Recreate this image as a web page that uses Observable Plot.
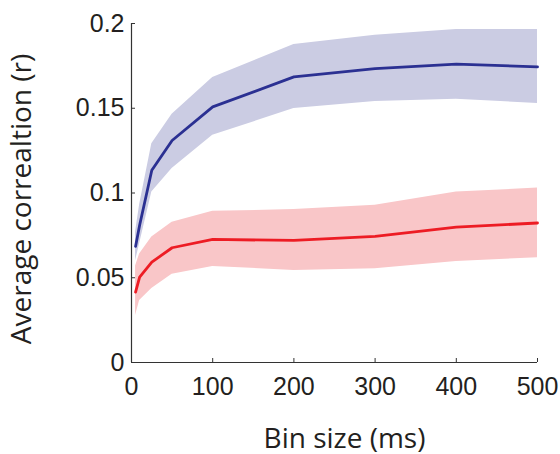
<!DOCTYPE html>
<html>
<head>
<meta charset="utf-8">
<script src="https://cdn.jsdelivr.net/npm/d3@7"></script>
<script src="https://cdn.jsdelivr.net/npm/@observablehq/plot@0.6"></script>
<style>
  html, body { margin: 0; padding: 0; background: #fff; }
</style>
</head>
<body>
<div id="chart"></div>
<script>
// Bin sizes (ms) at which the correlation was computed
const binSizes = [5, 10, 25, 50, 100, 200, 300, 400, 500];

// Blue series: mean and shaded band
const blueMean = [0.0685, 0.081, 0.1134, 0.131, 0.1508, 0.1685, 0.1734, 0.176, 0.1744];
const blueLow  = [0.060, 0.070, 0.1006, 0.1144, 0.134, 0.1498, 0.154, 0.1553, 0.1528];
const blueHigh = [0.077, 0.093, 0.129, 0.1464, 0.1682, 0.1876, 0.193, 0.1964, 0.1964];

// Red series: mean and shaded band
const redMean = [0.0415, 0.0504, 0.0592, 0.0677, 0.0726, 0.072, 0.0744, 0.0799, 0.0823];
const redLow  = [0.0278, 0.0366, 0.0437, 0.052, 0.0567, 0.0543, 0.0553, 0.0596, 0.0618];
const redHigh = [0.057, 0.064, 0.074, 0.0828, 0.0892, 0.0902, 0.0927, 0.1006, 0.1029];

// Tick values
const xTicks = [0, 100, 200, 300, 400, 500];
const yTicks = [0, 0.05, 0.1, 0.15, 0.2];

const xLabel = "Bin size (ms)";
const yLabel = "Average correaltion (r)";

const blue = binSizes.map((x, i) => ({x, mean: blueMean[i], low: blueLow[i], high: blueHigh[i]}));
const red = binSizes.map((x, i) => ({x, mean: redMean[i], low: redLow[i], high: redHigh[i]}));

const labelFont = "'Open Sans', sans-serif";

const chart = Plot.plot({
  width: 560,
  height: 454,
  marginLeft: 131,
  marginRight: 23,
  marginTop: 23,
  marginBottom: 92,
  style: {fontFamily: "'Liberation Sans', Arial, sans-serif", fontSize: "25px", color: "#231f20", background: "#fff"},
  x: {domain: [0, 500]},
  y: {domain: [0, 0.2]},
  marks: [
    Plot.areaY(red, {x: "x", y1: "low", y2: "high", fill: "#f9c6c8"}),
    Plot.areaY(blue, {x: "x", y1: "low", y2: "high", fill: "#cbcce3"}),
    Plot.lineY(red, {x: "x", y: "mean", stroke: "#ed1c24", strokeWidth: 2.8}),
    Plot.lineY(blue, {x: "x", y: "mean", stroke: "#2b3092", strokeWidth: 2.8}),
    Plot.ruleX([0], {y1: 0, y2: 0.2, stroke: "#333", strokeWidth: 1.2}),
    Plot.ruleY([0], {x1: 0, x2: 500, stroke: "#333", strokeWidth: 1.2}),
    Plot.axisX({ticks: xTicks, tickSize: -4, tickPadding: 19, tickFormat: d => String(d), label: null, stroke: "#333"}),
    Plot.axisY({ticks: yTicks, tickSize: -4, tickPadding: 11, tickFormat: d => String(d), label: null, stroke: "#333"}),
    Plot.text([xLabel], {frameAnchor: "bottom", dx: 10, dy: 85, fontSize: 28, fontFamily: labelFont, fill: "#231f20"}),
    Plot.text([yLabel], {frameAnchor: "left", textAnchor: "middle", rotate: -90, dx: -109, dy: 6, fontSize: 28, fontFamily: labelFont, fill: "#231f20"})
  ]
});

document.getElementById("chart").appendChild(chart);
</script>
</body>
</html>
